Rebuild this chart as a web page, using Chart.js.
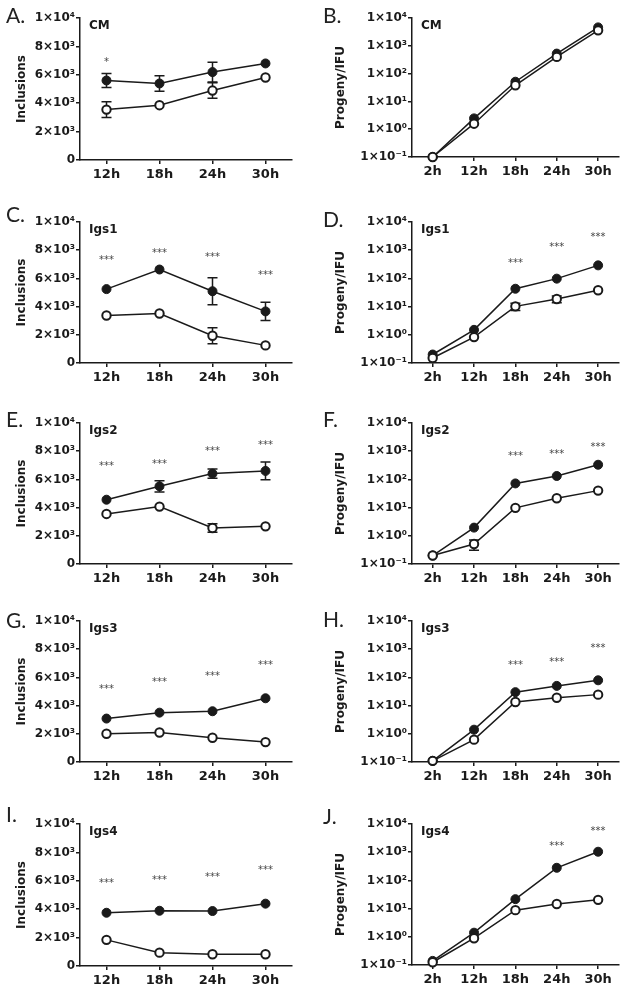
<!DOCTYPE html>
<html>
<head>
<meta charset="utf-8">
<script src="https://cdn.jsdelivr.net/npm/chart.js@4.4.0/dist/chart.umd.min.js"></script>
<style>
  body { margin: 0; background: #fff; width: 625px; height: 989px; position: relative; overflow: hidden; }
  canvas { position: absolute; }
  .lbl { position: absolute; font-family: Lato, "Open Sans", sans-serif; font-size: 21px; line-height: 21px; color: #222; }
</style>
</head>
<body>
<script>
// categories
const strains = ["CM", "Igs1", "Igs2", "Igs3", "Igs4"];
const inclTimes = ["12h", "18h", "24h", "30h"];
const progTimes = ["2h", "12h", "18h", "24h", "30h"];
const panelLetters = [["A.", "B."], ["C.", "D."], ["E.", "F."], ["G.", "H."], ["I.", "J."]];

// Inclusions, one row per strain (filled / open circles)
const inclFilled = [
  [5600, 5390, 6190, 6800],
  [5240, 6630, 5090, 3660],
  [4560, 5510, 6410, 6600],
  [3080, 3500, 3600, 4520],
  [3750, 3890, 3870, 4390],
];
const inclFilledErr = [
  [500, 550, 700, 0],
  [0, 0, 950, 650],
  [0, 400, 320, 630],
  [0, 0, 0, 0],
  [0, 0, 0, 0],
];
const inclOpen = [
  [3550, 3860, 4890, 5810],
  [3370, 3510, 1930, 1250],
  [3550, 4070, 2550, 2670],
  [2000, 2090, 1720, 1410],
  [1840, 940, 830, 830],
];
const inclOpenErr = [
  [550, 0, 550, 0],
  [0, 0, 570, 0],
  [0, 0, 300, 0],
  [0, 0, 0, 0],
  [0, 0, 0, 0],
];
const inclStars = [
  ["*", "", "", ""],
  ["***", "***", "***", "***"],
  ["***", "***", "***", "***"],
  ["***", "***", "***", "***"],
  ["***", "***", "***", "***"],
];
const inclStarAt = [
  [7100, null, null, null],
  [7500, 8000, 7750, 6450],
  [7160, 7330, 8230, 8630],
  [5410, 5860, 6330, 7110],
  [6080, 6270, 6490, 7000],
];

// Progeny/IFU, one row per strain
const progFilled = [
  [0.1, 2.45, 51, 525, 4600],
  [0.2, 1.5, 43, 98, 290],
  [0.2, 1.95, 72, 132, 331],
  [0.11, 1.4, 30, 50, 79],
  [0.14, 1.4, 21.6, 280, 1040],
];
const progFilledErr = [
  [0, 0, 0, 0, 0],
  [0, 0, 0, 0, 0],
  [0, 0, 0, 0, 0],
  [0, 0, 0, 0, 0],
  [0, 0, 0, 0, 0],
];
const progOpen = [
  [0.1, 1.58, 38, 398, 3600],
  [0.15, 0.83, 10.2, 18.6, 38],
  [0.2, 0.51, 9.8, 21.5, 40],
  [0.11, 0.62, 13.4, 19, 24.5],
  [0.125, 0.89, 8.8, 14.6, 20.4],
];
const progOpenErr = [
  [0, 0, 0, 0, 0],
  [0, 0, 3, 5, 0],
  [0, 0.2, 0, 0, 0],
  [0, 0, 0, 0, 0],
  [0, 0, 0, 0, 0],
];
const progStars = [
  ["", "", "", "", ""],
  ["", "", "***", "***", "***"],
  ["", "", "***", "***", "***"],
  ["", "", "***", "***", "***"],
  ["", "", "", "***", "***"],
];
const progStarAt = [
  [null, null, null, null, null],
  [null, null, 457, 1700, 3630],
  [null, null, 850, 1040, 1790],
  [null, null, 340, 457, 1380],
  [null, null, null, 2100, 7200],
];
const decades = [0.1, 1, 10, 100, 1000, 10000];

// layout (pixels)
const colLeft = [0, 310];
const colWidth = [310, 315];
const chartLeft = [80, 412];
const chartRight = [292, 623];
const rowTop = [18, 222, 423, 621, 824];
const rowBottom = [[160, 157], [363, 363], [564, 564], [762, 762], [966, 965]];
const letterLeft = [6, 323];
const letterTop = [[4, 4], [203, 208], [408, 408], [609, 608], [803, 805]];
const padTop = 14;
const axisH = 30;
const ink = "#1a1a1a";

Chart.defaults.font.family = "'DejaVu Sans', sans-serif";
Chart.defaults.font.weight = "bold";
Chart.defaults.font.size = 12;
Chart.defaults.color = ink;

const supMap = { "-": "\u207B", "0": "\u2070", "1": "\u00B9", "2": "\u00B2", "3": "\u00B3", "4": "\u2074" };
function sciLabel(v) {
  if (v === 0) return "0";
  const e = Math.floor(Math.log10(v) + 1e-9);
  const m = Math.round(v / Math.pow(10, e));
  return m + "\u00D710" + String(e).split("").map((c) => supMap[c]).join("");
}

// error bars, significance stars and the strain name inside each panel
function decorPlugin(title, errs, stars, starAt) {
  return {
    id: "decor",
    beforeDatasetsDraw(chart) {
      const ctx = chart.ctx;
      const xs = chart.scales.x, ys = chart.scales.y;
      ctx.save();
      ctx.strokeStyle = ink;
      ctx.lineWidth = 1.5;
      chart.data.datasets.forEach((ds, di) => {
        ds.data.forEach((v, i) => {
          const e = errs[di][i];
          if (!e) return;
          const x = xs.getPixelForValue(i);
          const y1 = ys.getPixelForValue(v + e);
          const y2 = ys.getPixelForValue(v - e);
          ctx.beginPath();
          ctx.moveTo(x, y1); ctx.lineTo(x, y2);
          ctx.moveTo(x - 5, y1); ctx.lineTo(x + 5, y1);
          ctx.moveTo(x - 5, y2); ctx.lineTo(x + 5, y2);
          ctx.stroke();
        });
      });
      ctx.restore();
    },
    afterDraw(chart) {
      const ctx = chart.ctx;
      const xs = chart.scales.x, ys = chart.scales.y;
      const area = chart.chartArea;
      ctx.save();
      ctx.fillStyle = ink;
      ctx.font = "bold 12px 'DejaVu Sans'";
      ctx.textBaseline = "middle";
      ctx.textAlign = "left";
      ctx.fillText(title, area.left + 9, area.top + 8);
      ctx.font = "10px 'DejaVu Sans'";
      ctx.fillStyle = "#444";
      ctx.textAlign = "center";
      ctx.textBaseline = "alphabetic";
      stars.forEach((s, i) => {
        if (!s || starAt[i] == null) return;
        ctx.fillText(s, xs.getPixelForValue(i), ys.getPixelForValue(starAt[i]) + 6);
      });
      ctx.restore();
    },
  };
}

function makePanel(row, col) {
  const isLog = col === 1;
  const top = rowTop[row];
  const bottom = rowBottom[row][col];
  const w = colWidth[col];
  const h = bottom - top + padTop + axisH;

  const cv = document.createElement("canvas");
  cv.width = w;
  cv.height = h;
  cv.style.left = colLeft[col] + "px";
  cv.style.top = top - padTop + "px";
  cv.style.width = w + "px";
  cv.style.height = h + "px";
  document.body.appendChild(cv);

  const lbl = document.createElement("div");
  lbl.className = "lbl";
  lbl.textContent = panelLetters[row][col];
  lbl.style.left = letterLeft[col] + "px";
  lbl.style.top = letterTop[row][col] + "px";
  document.body.appendChild(lbl);

  const filled = isLog ? progFilled[row] : inclFilled[row];
  const open = isLog ? progOpen[row] : inclOpen[row];
  const errs = isLog ? [progFilledErr[row], progOpenErr[row]] : [inclFilledErr[row], inclOpenErr[row]];
  const stars = isLog ? progStars[row] : inclStars[row];
  const starAt = isLog ? progStarAt[row] : inclStarAt[row];

  const axisLine = {
    display: true,
    drawOnChartArea: false,
    drawTicks: true,
    tickLength: 4,
    color: ink,
    lineWidth: 1.5,
  };

  const yScale = isLog
    ? {
        type: "logarithmic",
        min: 0.1,
        max: 10000,
        afterBuildTicks: (s) => { s.ticks = decades.map((v) => ({ value: v })); },
      }
    : { type: "linear", min: 0, max: 10000 };
  yScale.ticks = { stepSize: 2000, padding: 1, callback: (v) => sciLabel(v) };
  yScale.grid = axisLine;
  yScale.border = { display: true, color: ink, width: 1.5 };
  yScale.title = {
    display: true,
    text: isLog ? "Progeny/IFU" : "Inclusions",
    padding: { top: isLog ? 24 : 15, bottom: 0 },
  };
  yScale.afterFit = (s) => { s.width = chartLeft[col] - colLeft[col]; };

  new Chart(cv.getContext("2d"), {
    type: "line",
    data: {
      labels: isLog ? progTimes : inclTimes,
      datasets: [
        {
          data: filled,
          borderColor: ink,
          borderWidth: 1.5,
          pointBackgroundColor: ink,
          pointBorderColor: ink,
          pointBorderWidth: 1,
          pointRadius: 4.5,
          clip: false,
          order: 1,
        },
        {
          data: open,
          borderColor: ink,
          borderWidth: 1.5,
          pointBackgroundColor: "#fff",
          pointBorderColor: ink,
          pointBorderWidth: 2,
          pointRadius: 4.2,
          clip: false,
          order: 0,
        },
      ],
    },
    options: {
      responsive: false,
      animation: false,
      devicePixelRatio: 1,
      layout: { padding: { top: padTop, right: colLeft[col] + w - chartRight[col], left: 0, bottom: 0 } },
      plugins: { legend: { display: false }, tooltip: { enabled: false } },
      scales: {
        x: {
          type: "category",
          offset: true,
          grid: Object.assign({ offset: false }, axisLine),
          border: { display: true, color: ink, width: 1.5 },
          ticks: { padding: 3, maxRotation: 0, font: { size: 13 } },
          afterFit: (s) => { s.height = axisH; },
        },
        y: yScale,
      },
    },
    plugins: [decorPlugin(strains[row], errs, stars, starAt)],
  });
}

for (let r = 0; r < strains.length; r++) {
  makePanel(r, 0);
  makePanel(r, 1);
}
</script>
</body>
</html>
